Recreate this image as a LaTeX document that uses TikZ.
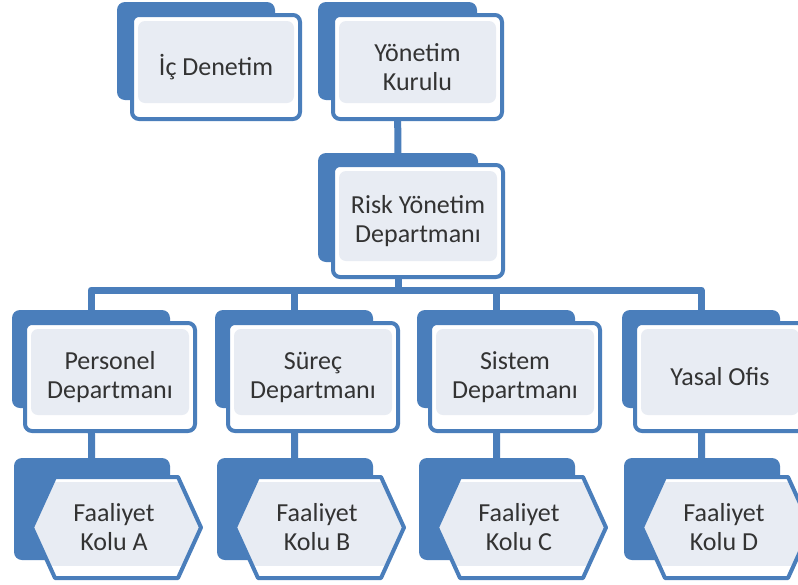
\documentclass[tikz,border=0pt]{standalone}
\usepackage{fontspec}
\setmainfont{Carlito}
\definecolor{blu}{HTML}{4A7EBB}
\definecolor{inner}{HTML}{E8ECF3}
\definecolor{txt}{HTML}{333333}
\pgfdeclarelayer{bgl}
\pgfdeclarelayer{connl}
\pgfsetlayers{bgl,connl,main}
\begin{document}
\begin{tikzpicture}[x=1pt,y=-1pt,
  backbox/.style={fill=blu, draw=none, rounded corners=8pt, inner sep=0pt, minimum width=158pt, minimum height=98pt},
  frontbox/.style={draw=blu, line width=4pt, fill=white, rounded corners=7pt, inner sep=0pt, align=center, text=txt, font=\fontsize{26}{29}\selectfont,
    path picture={\fill[inner] ([shift={(6pt,-6pt)}]path picture bounding box.north west) rectangle ([shift={(-6pt,16pt)}]path picture bounding box.south east);}},
  hexline/.style={draw=blu, line width=4pt, line join=round},
  lbl/.style={align=center, text=txt, font=\fontsize{26}{29}\selectfont, inner sep=0pt},
  conn/.style={draw=blu, line width=7pt, line join=round}]
\clip (0,0) rectangle (798,584);
\begin{pgfonlayer}{bgl}
\fill[white] (0,0) rectangle (798,584);
\end{pgfonlayer}
% top row
\node[backbox] (bic) at (196,51) {};
\node[frontbox, minimum width=168pt, minimum height=104pt] (fic) at (216,67) {İç Denetim};
\node[backbox, minimum width=159pt] (byk) at (397.5,51) {};
\node[frontbox, minimum width=169pt, minimum height=104pt] (fyk) at (417.5,67) {Yönetim\\Kurulu};
% risk
\node[backbox, minimum width=160pt, minimum height=109pt] (brk) at (398,207.5) {};
\node[frontbox, minimum width=170pt, minimum height=112pt] (frk) at (418,221) {Risk Yönetim\\Departmanı};
\coordinate (bus) at (398,290);
% mid and bottom rows
\foreach \x/\n/\t/\h in {25/p/{Personel\\Departmanı}/A, 228/s/{Süreç\\Departmanı}/B, 430/c/{Sistem\\Departmanı}/C, 635/y/{Yasal Ofis}/D}{
  \node[backbox] (b\n) at (\x+66,359) {};
  \node[frontbox, minimum width=170pt, minimum height=108pt] (f\n) at (\x+85,377) {\t};
  \node[backbox, minimum width=156pt, minimum height=102pt] (l\n) at (\x+67,509) {};
  \fill[white] (\x+7,527.5) -- (\x+30,477) -- (\x+153,477) -- (\x+176,527.5) -- (\x+153,578) -- (\x+30,578) -- cycle;
  \begin{scope}
    \clip (\x+7,527.5) -- (\x+30,477) -- (\x+153,477) -- (\x+176,527.5) -- (\x+153,578) -- (\x+30,578) -- cycle;
    \fill[inner] (\x,482) rectangle (\x+180,566);
  \end{scope}
  \draw[hexline] (\x+7,527.5) -- (\x+30,477) -- (\x+153,477) -- (\x+176,527.5) -- (\x+153,578) -- (\x+30,578) -- cycle;
  \node[lbl] (h\n) at (\x+89,527.5) {Faaliyet\\Kolu \h};
}
% connectors
\begin{pgfonlayer}{connl}
\draw[conn] (byk.center) -- (brk.center);
\draw[conn] (brk.center) -- (bus);
\draw[conn] (bp.center) -- (bp.center |- bus) -- (by.center |- bus) -- (by.center);
\draw[conn] (bs.center) -- (bs.center |- bus);
\draw[conn] (bc.center) -- (bc.center |- bus);
\foreach \n in {p,s,c,y}{
  \draw[conn] (b\n.center) -- (l\n.center);
}
\end{pgfonlayer}
\end{tikzpicture}
\end{document}
